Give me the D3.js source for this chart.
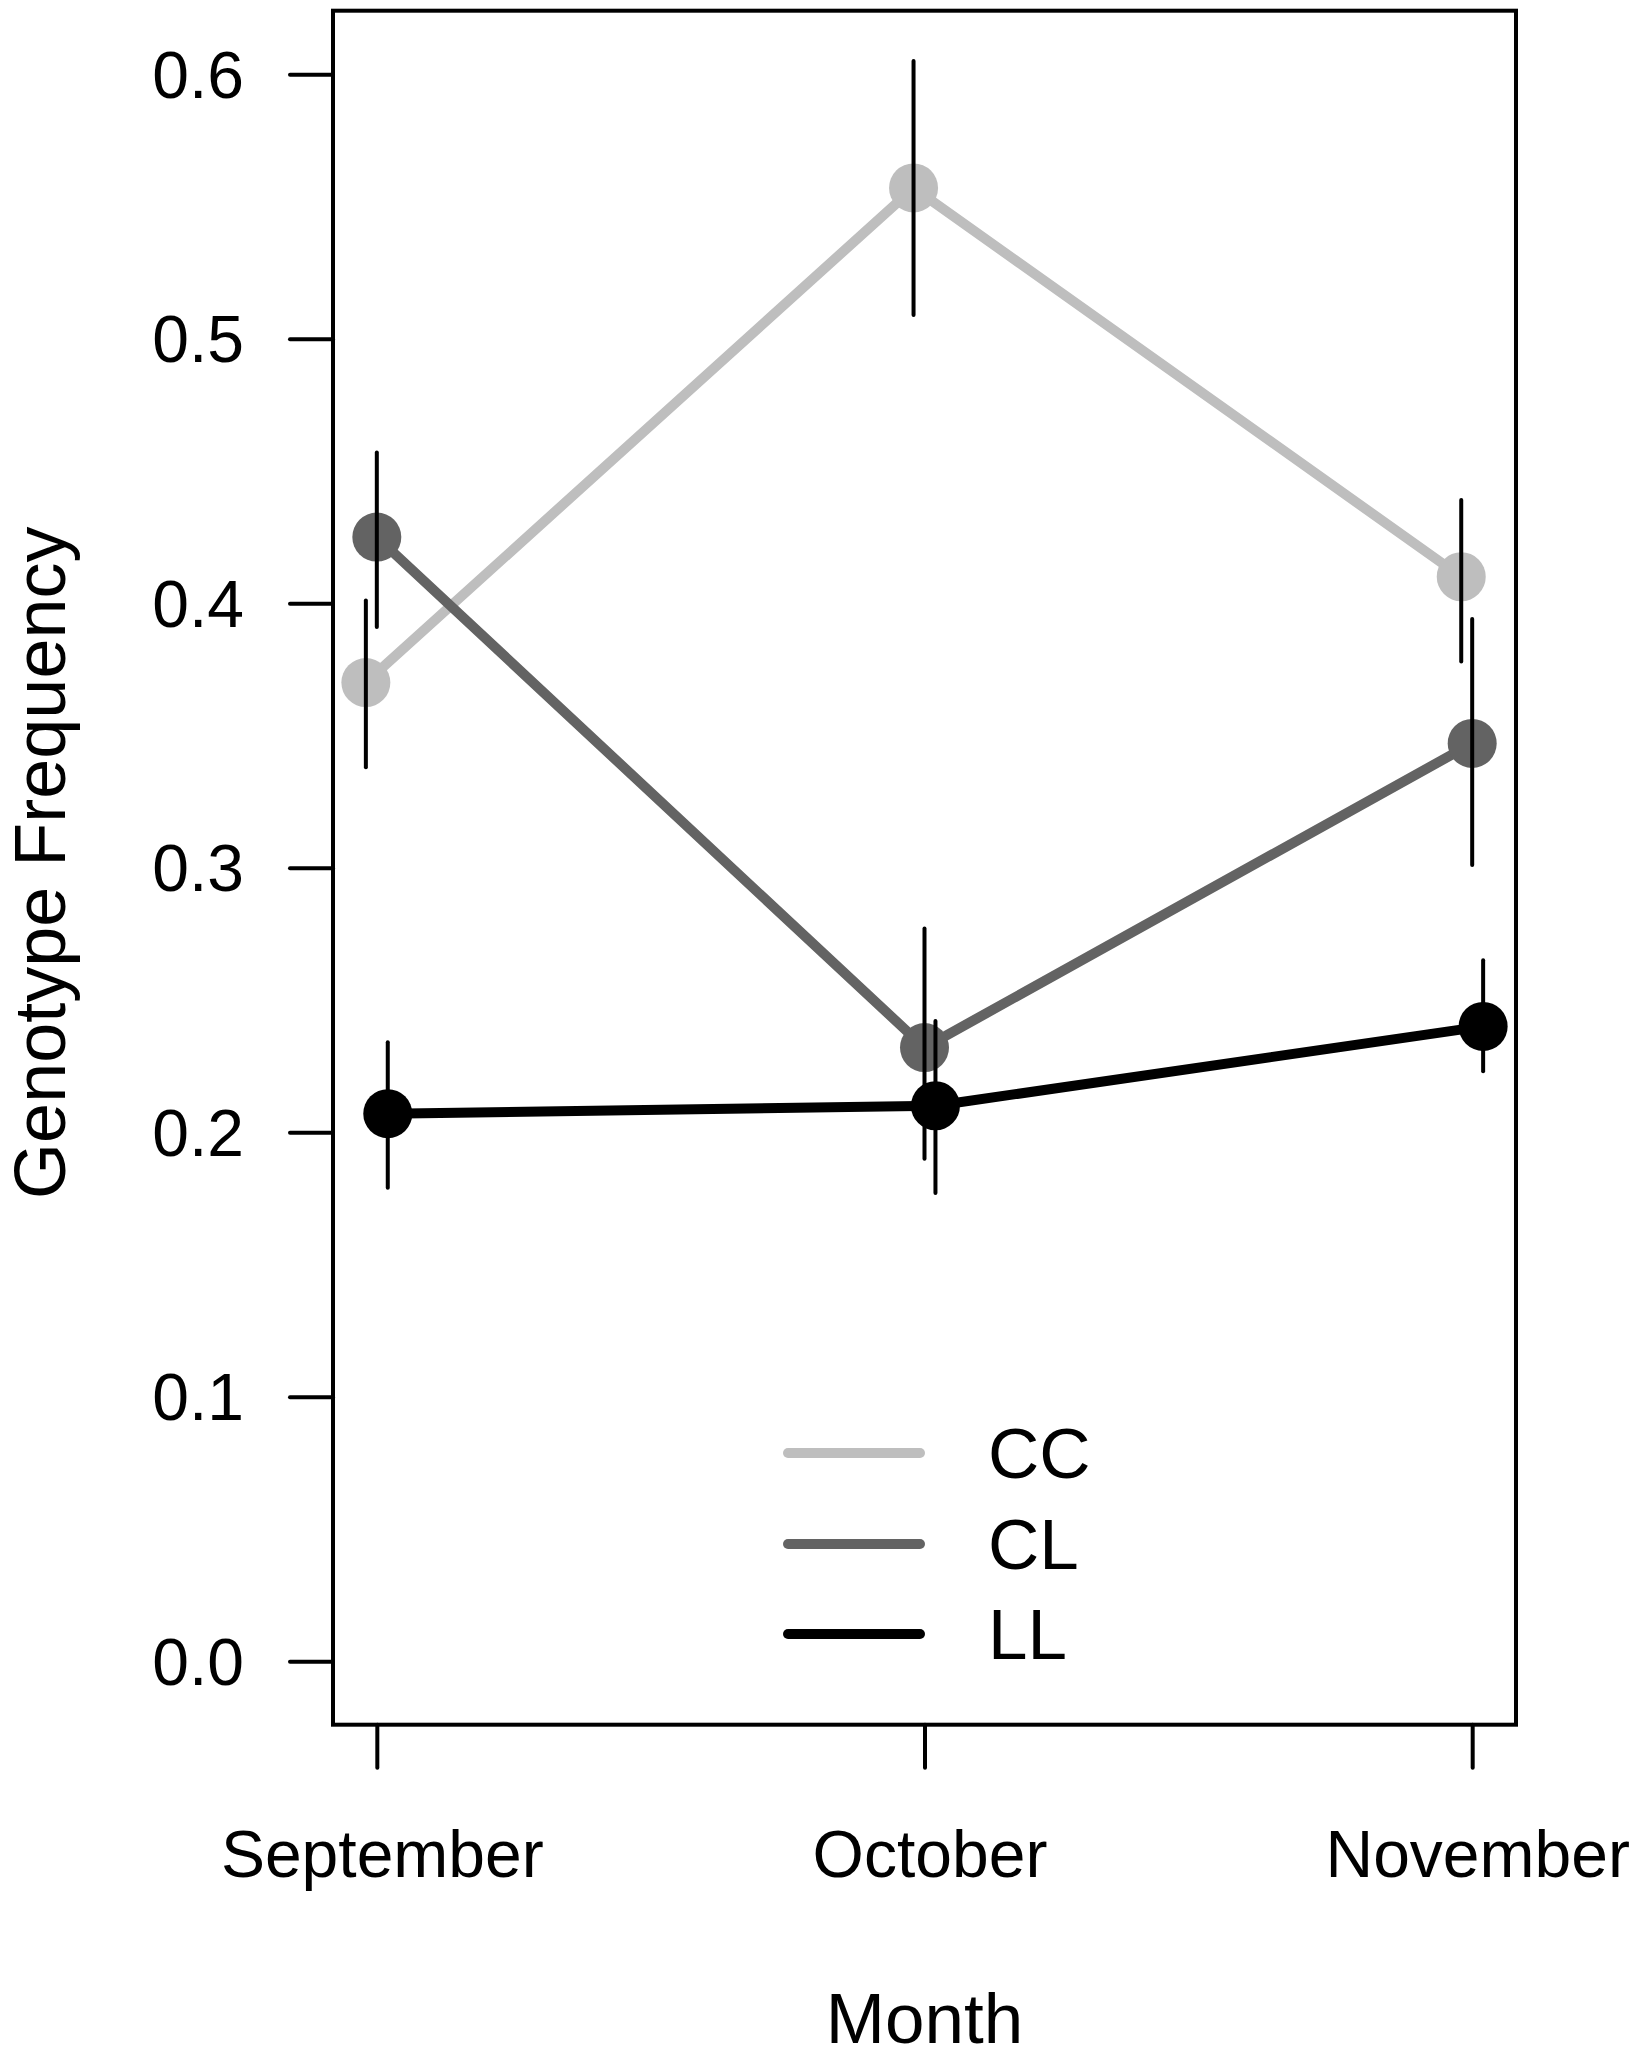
<!DOCTYPE html>
<html>
<head>
<meta charset="utf-8">
<script src="https://cdn.jsdelivr.net/npm/d3@7"></script>
<style>
  body { margin: 0; background: #fff; }
  text { font-family: "Liberation Sans", Arial, Helvetica, sans-serif; fill: #000; }
</style>
</head>
<body>
<div id="chart"></div>
<script>
// month categories and dodge offsets per genotype
const months = ["September", "October", "November"];
const genotypes = ["CC", "CL", "LL"];
const colors = ["#bebebe", "#636363", "#000000"];
const dodge = [-0.02, 0, 0.02];

// genotype frequency (mean) and error bar limits
const ccMean  = [0.370, 0.557, 0.410];
const ccLow   = [0.338, 0.509, 0.378];
const ccHigh  = [0.401, 0.605, 0.439];
const clMean  = [0.425, 0.232, 0.347];
const clLow   = [0.391, 0.190, 0.301];
const clHigh  = [0.457, 0.277, 0.394];
const llMean  = [0.207, 0.210, 0.240];
const llLow   = [0.179, 0.177, 0.223];
const llHigh  = [0.234, 0.242, 0.265];

const yTicks = [0, 0.1, 0.2, 0.3, 0.4, 0.5, 0.6];

const width = 1632, height = 2055;
const box = { left: 333, right: 1516, top: 10.7, bottom: 1724.7 };

const series = [
  { mean: ccMean, low: ccLow, high: ccHigh },
  { mean: clMean, low: clLow, high: clHigh },
  { mean: llMean, low: llLow, high: llHigh },
].map((s, i) => ({
  name: genotypes[i],
  color: colors[i],
  points: months.map((m, j) => ({
    x: j + 1 + dodge[i], mean: s.mean[j], low: s.low[j], high: s.high[j]
  }))
}));

const svg = d3.select("#chart").append("svg")
  .attr("width", width)
  .attr("height", height)
  .style("background", "#fff");

// R-style 4% padding around the data range
const x = d3.scaleLinear().domain([0.92, 3.08]).range([box.left, box.right]);
const y = d3.scaleLinear().domain([-0.024, 0.624]).range([box.bottom, box.top]);

// y axis
const yAxis = svg.append("g")
  .attr("transform", `translate(${box.left},0)`)
  .call(d3.axisLeft(y).tickValues(yTicks).tickFormat(d3.format(".1f")).tickSize(43).tickPadding(46));
yAxis.select(".domain").remove();
yAxis.selectAll(".tick line").attr("stroke", "#000").attr("stroke-width", 4).attr("stroke-linecap", "round");
yAxis.selectAll(".tick text").attr("font-size", 66).attr("dy", "0.35em")
  .style("font-family", '"Liberation Sans", Arial, Helvetica, sans-serif');

// x axis
const xAxis = svg.append("g")
  .attr("transform", `translate(0,${box.bottom})`)
  .call(d3.axisBottom(x).tickValues([1, 2, 3]).tickFormat(d => months[d - 1]).tickSize(43).tickPadding(62));
xAxis.select(".domain").remove();
xAxis.selectAll(".tick line").attr("stroke", "#000").attr("stroke-width", 4).attr("stroke-linecap", "round");
xAxis.selectAll(".tick text").attr("font-size", 66).attr("dx", 5)
  .style("font-family", '"Liberation Sans", Arial, Helvetica, sans-serif');

// plot box
svg.append("rect")
  .attr("x", box.left).attr("y", box.top)
  .attr("width", box.right - box.left).attr("height", box.bottom - box.top)
  .attr("fill", "none").attr("stroke", "#000").attr("stroke-width", 4);

// connecting lines
const line = d3.line().x(d => x(d.x)).y(d => y(d.mean));
svg.append("g").selectAll("path")
  .data(series)
  .join("path")
  .attr("d", d => line(d.points))
  .attr("fill", "none")
  .attr("stroke", d => d.color)
  .attr("stroke-width", 10)
  .attr("stroke-linejoin", "round")
  .attr("stroke-linecap", "round");

// points
svg.append("g").selectAll("g")
  .data(series)
  .join("g")
  .attr("fill", d => d.color)
  .selectAll("circle")
  .data(d => d.points)
  .join("circle")
  .attr("cx", d => x(d.x))
  .attr("cy", d => y(d.mean))
  .attr("r", 24.5);

// error bars
svg.append("g").selectAll("line")
  .data(series.flatMap(s => s.points))
  .join("line")
  .attr("x1", d => x(d.x)).attr("x2", d => x(d.x))
  .attr("y1", d => y(d.low)).attr("y2", d => y(d.high))
  .attr("stroke", "#000")
  .attr("stroke-width", 4)
  .attr("stroke-linecap", "round");

// legend
const legend = svg.append("g");
const legendY = [1453, 1544, 1634];
legend.selectAll("line")
  .data(series)
  .join("line")
  .attr("x1", 788).attr("x2", 920)
  .attr("y1", (d, i) => legendY[i]).attr("y2", (d, i) => legendY[i])
  .attr("stroke", d => d.color)
  .attr("stroke-width", 10)
  .attr("stroke-linecap", "round");
legend.selectAll("text")
  .data(series)
  .join("text")
  .attr("x", 988)
  .attr("y", (d, i) => legendY[i] + 25)
  .attr("font-size", 71)
  .text(d => d.name);

// axis titles
svg.append("text")
  .attr("x", x(2))
  .attr("y", 2043)
  .attr("text-anchor", "middle")
  .attr("font-size", 71)
  .text("Month");

svg.append("text")
  .attr("transform", `translate(65,${(box.top + box.bottom) / 2 - 5}) rotate(-90)`)
  .attr("text-anchor", "middle")
  .attr("font-size", 72)
  .text("Genotype Frequency");
</script>
</body>
</html>
